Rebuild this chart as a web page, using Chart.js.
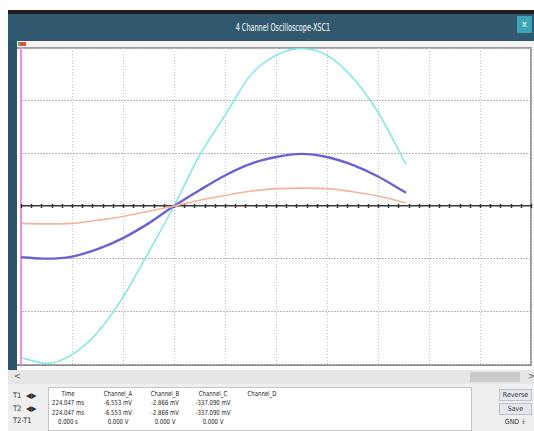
<!DOCTYPE html>
<html>
<head>
<meta charset="utf-8">
<script src="https://cdn.jsdelivr.net/npm/chart.js@4.4.0/dist/chart.umd.min.js"></script>
<style>
  html, body { margin: 0; padding: 0; background: #fff; }
  body { width: 534px; height: 431px; position: relative; overflow: hidden;
         font-family: "Liberation Sans Narrow", "DejaVu Sans Condensed", sans-serif; }
  .abs { position: absolute; }
  #topstrip { left: 8px; top: 10px; width: 526px; height: 4px; background: #1e1e1e; }
  #titlebar { left: 8px; top: 14px; width: 526px; height: 27px; background: #30596f;
              color: #fff; font-size: 10px; line-height: 27px; text-align: center; }
  #titlebar span { position: absolute; left: 0; width: 545px; text-align: center; transform: scaleX(0.72); transform-origin: 281px 0; }
  #closebtn { left: 517px; top: 16px; width: 15px; height: 17px; background: #3ea4b3;
              color: #fff; font-size: 9px; line-height: 17px; text-align: center; }
  #leftbar { left: 8px; top: 41px; width: 9px; height: 331px; background: #2d5468; }
  #marker { left: 17px; top: 41px; width: 517px; height: 6px; background: #f3f3f3; }
  #trig { left: 18px; top: 42px; width: 6px; height: 4px; background: #d9533a; border-left: 2px solid #5cb35c; }
  #plotbox { left: 17px; top: 47px; width: 515px; height: 319px; background: #fff;
             border-top: 2px solid #9a9a9a; border-right: 2px solid #9a9a9a; border-bottom: 2px solid #8a8a8a; box-sizing: border-box; }
  #scroll { left: 8px; top: 370px; width: 526px; height: 14px; background: #e6e6e6; font-size: 9px; color: #555; }
  #thumb { left: 470px; top: 372px; width: 50px; height: 10px; background: #cacaca; }
  #panel { left: 8px; top: 384px; width: 526px; height: 47px; background: #efefef; }
  #table { left: 48px; top: 387px; width: 424px; height: 44px; background: #fff; border: 1px solid #c4c4c4; box-sizing: border-box; }
  .t { position: absolute; font-size: 7px; color: #222; white-space: nowrap; transform: translateX(-50%) scaleX(0.85); }
  .lbl { position: absolute; font-size: 7.5px; color: #333; white-space: nowrap; }
  .btn { position: absolute; left: 499px; width: 33px; height: 12px; background: #e4e8ee; border: 1px solid #b9c2cc;
         box-sizing: border-box; font-size: 7px; line-height: 11px; text-align: center; color: #333; }
  #chart { position: absolute; left: 0; top: 0; }
</style>
</head>
<body>
<div id="topstrip" class="abs"></div>
<div id="titlebar" class="abs"><span>4 Channel Oscilloscope-XSC1</span></div>
<div id="closebtn" class="abs">x</div>
<div id="leftbar" class="abs"></div>
<div id="marker" class="abs"></div>
<div id="trig" class="abs"></div>
<div id="plotbox" class="abs"></div>
<div id="scroll" class="abs"><span style="position:absolute;left:6px;top:1px;">&lt;</span><span style="position:absolute;left:520px;top:1px;">&gt;</span></div>
<div id="thumb" class="abs"></div>
<div id="panel" class="abs"></div>
<div id="table" class="abs"></div>
<div id="readout"></div>
<canvas id="chart" width="534" height="431"></canvas>
<script>
// screen position in divisions (10 across, 6 up/down)
const divs = [0, 0.5, 1, 1.5, 2, 2.5, 3, 3.5, 4, 4.5, 5, 5.5, 6, 6.5, 7, 7.55];
// traces, in divisions
const traceCyan   = [-2.88, -2.99, -2.82, -2.40, -1.73, -0.88, 0, 0.96, 1.72, 2.48, 2.86, 2.99, 2.86, 2.44, 1.78, 0.79];
const traceBlue   = [-0.97, -1.00, -0.96, -0.82, -0.61, -0.33, 0, 0.30, 0.58, 0.80, 0.93, 0.99, 0.93, 0.78, 0.56, 0.25];
const traceOrange = [-0.33, -0.34, -0.33, -0.27, -0.20, -0.10, 0, 0.11, 0.20, 0.28, 0.33, 0.34, 0.33, 0.27, 0.19, 0.06];

// cursor readout table
const colHeads = ['Time', 'Channel_A', 'Channel_B', 'Channel_C', 'Channel_D'];
const rowT1 = ['224.047 ms', '-6.553 mV', '-2.866 mV', '-337.090 mV'];
const rowT2 = ['224.047 ms', '-6.553 mV', '-2.866 mV', '-337.090 mV'];
const rowDiff = ['0.000 s', '0.000 V', '0.000 V', '0.000 V'];
const rowNames = ['T1', 'T2', 'T2-T1'];
const btnNames = ['Reverse', 'Save', 'GND \u23DA'];

const colX = [68, 118, 165, 213, 262];
const readout = document.getElementById('readout');
function addText(cls, txt, x, y) {
  const d = document.createElement('div');
  d.className = cls; d.textContent = txt;
  d.style.left = x + 'px'; d.style.top = y + 'px';
  readout.appendChild(d);
}
colHeads.forEach((h, i) => addText('t', h, colX[i], 390));
[rowT1, rowT2, rowDiff].forEach((row, r) => {
  row.forEach((v, i) => addText('t', v, colX[i], 399 + r * 9.5));
});
rowNames.forEach((n, r) => addText('lbl', n, 13, 391 + r * 12.5));
addText('lbl', '\u25C0\u25B6', 26, 391);
addText('lbl', '\u25C0\u25B6', 26, 403.5);
btnNames.forEach((b, i) => {
  const d = document.createElement('div');
  d.className = 'btn'; d.textContent = b;
  d.style.top = (389 + i * 14) + 'px';
  if (i === 2) { d.style.background = 'transparent'; d.style.border = 'none'; }
  readout.appendChild(d);
});

const line = (data, color, w) => ({
  data: divs.map((x, i) => ({ x: x, y: data[i] })),
  borderColor: color, borderWidth: w, pointRadius: 0,
  cubicInterpolationMode: 'monotone', fill: false
});

// small tick marks along the centre line
const centreTicks = {
  id: 'centreTicks',
  beforeDatasetsDraw(chart) {
    const { ctx, scales: { x, y } } = chart;
    const y0 = y.getPixelForValue(0);
    ctx.save();
    ctx.strokeStyle = '#333';
    ctx.lineWidth = 1.5;
    ctx.beginPath();
    for (let v = 0; v <= 10.001; v += 0.2) {
      const px = Math.round(x.getPixelForValue(v)) + 0.5;
      ctx.moveTo(px, y0 - 2);
      ctx.lineTo(px, y0 + 2);
    }
    ctx.stroke();
    ctx.restore();
  }
};

new Chart(document.getElementById('chart'), {
  type: 'line',
  data: {
    datasets: [
      line(traceOrange, '#f5b39b', 1.6),
      line(traceBlue, '#6a62d4', 2.4),
      line(traceCyan, '#7de6e6', 1.5)
    ]
  },
  options: {
    responsive: false, animation: false, events: [],
    layout: { padding: { left: 21, top: 48, right: 3, bottom: 67 } },
    plugins: { legend: { display: false }, tooltip: { enabled: false } },
    scales: {
      x: {
        type: 'linear', min: 0, max: 10,
        ticks: { display: false, stepSize: 1 },
        grid: { color: '#c4c4c4', lineWidth: 1, drawTicks: false },
        border: { display: false, dash: [1, 2] }
      },
      y: {
        min: -3, max: 3,
        ticks: { display: false, stepSize: 1 },
        grid: {
          color: c => c.tick && c.tick.value === 0 ? '#3a3a3a' : '#b8b8b8',
          lineWidth: c => c.tick && c.tick.value === 0 ? 1.5 : 1,
          drawTicks: false
        },
        border: { display: true, color: '#ec8cec', width: 2, dash: c => c.tick && c.tick.value === 0 ? [] : [2, 1] }
      }
    }
  },
  plugins: [centreTicks]
});
</script>
</body>
</html>
